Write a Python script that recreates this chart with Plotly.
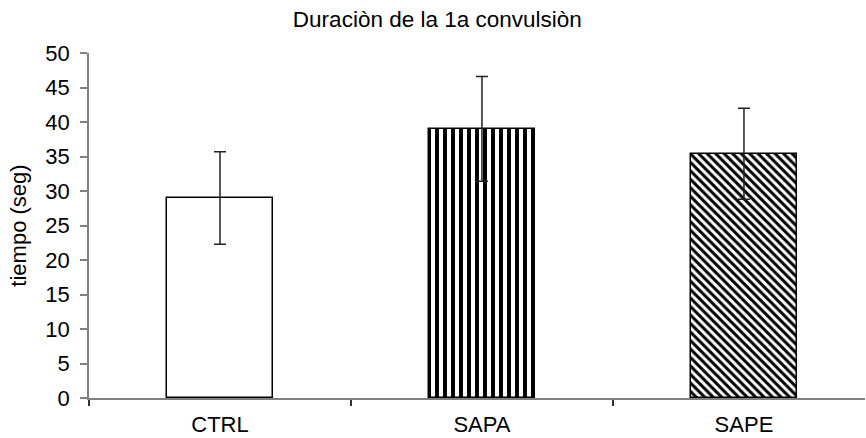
import plotly.graph_objects as go

# Duration of the first convulsion per group
groups = ["CTRL", "SAPA", "SAPE"]
duration = [29.0, 39.0, 35.4]
error = [6.7, 7.6, 6.6]
patterns = ["", "|", "\\"]

y_ticks = [0, 5, 10, 15, 20, 25, 30, 35, 40, 45, 50]

FONT = "Arial, Liberation Sans, sans-serif"

fig = go.Figure(
    go.Bar(
        x=groups,
        y=duration,
        width=0.405,
        marker=dict(
            color="white",
            line=dict(color="black", width=1.5),
            pattern=dict(
                shape=patterns,
                fgcolor="black",
                bgcolor="white",
                size=[8, 8, 6],
                solidity=0.5,
                fillmode="replace",
            ),
        ),
        error_y=dict(
            type="data",
            array=error,
            visible=True,
            color="#222222",
            thickness=1.5,
            width=6,
        ),
    )
)

fig.update_layout(
    width=866,
    height=438,
    margin=dict(l=89, r=1, t=53, b=40),
    paper_bgcolor="white",
    plot_bgcolor="white",
    showlegend=False,
    font=dict(family=FONT, size=22, color="black"),
    title=dict(
        text="Duraciòn de la 1a convulsiòn",
        x=0.505,
        xanchor="center",
        y=0.957,
        yanchor="middle",
        font=dict(family=FONT, size=22.5, color="black"),
    ),
    bargap=0.0,
)

fig.update_xaxes(
    type="category",
    range=[-0.5, 2.462],
    automargin=False,
    showline=True,
    linecolor="#808080",
    linewidth=1.5,
    ticks="outside",
    tickson="boundaries",
    ticklen=6,
    tickcolor="#333333",
    tickwidth=1.5,
    ticklabelstandoff=6,
    showgrid=False,
    zeroline=False,
)

fig.update_yaxes(
    range=[0, 50],
    tickvals=y_ticks,
    automargin=False,
    showline=True,
    linecolor="#808080",
    linewidth=1.5,
    ticks="outside",
    ticklen=7,
    tickcolor="#808080",
    tickwidth=1.5,
    ticklabelstandoff=6,
    showgrid=False,
    zeroline=False,
    title=dict(text="tiempo (seg)", standoff=13, font=dict(family=FONT, size=22)),
)

fig.write_html("out.html")
